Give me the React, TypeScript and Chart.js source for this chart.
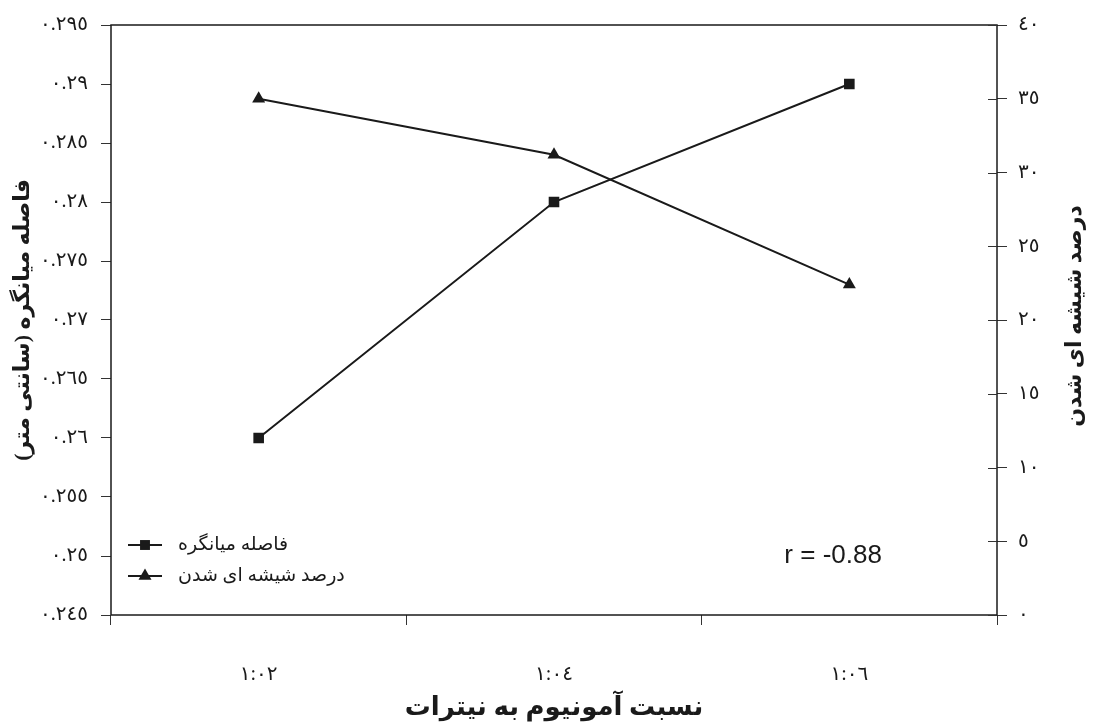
import React, { useEffect, useRef } from "react";
import { Chart, registerables } from "chart.js";

Chart.register(...registerables);

// ---- data ----
const categories = ["1:02", "1:04", "1:06"];
const meanDistance = [0.26, 0.28, 0.29];
const vitrificationPct = [35, 31.2, 22.4];

const leftRange = [0.245, 0.295];
const leftStep = 0.005;
const rightRange = [0, 40];
const rightStep = 5;

const seriesLabels = ["فاصله میانگره", "درصد شیشه ای شدن"];
const xTitle = "نسبت آمونیوم به نیترات";
const leftTitle = "فاصله میانگره (سانتی متر)";
const rightTitle = "درصد شیشه ای شدن";
const rText = "r = -0.88";

const AR_DIGITS = "٠١٢٣٤٥٦٧٨٩";
const toArabic = (s: string) => s.replace(/[0-9]/g, (d) => AR_DIGITS[+d]);
const fmtLeft = (v: number) => {
  let s = v.toFixed(3).replace(/0+$/, "").replace(/\.$/, "");
  return toArabic(s);
};

const SERIF = "'Liberation Serif', 'DejaVu Serif', 'DejaVu Sans', serif";
const SANS = "'Liberation Sans', 'Open Sans', sans-serif";
const INK = "#1a1a1a";

function drawMarker(ctx: CanvasRenderingContext2D, style: string, x: number, y: number, r: number) {
  ctx.beginPath();
  if (style === "rect") {
    const s = r * Math.SQRT1_2;
    ctx.rect(x - s, y - s, 2 * s, 2 * s);
  } else {
    ctx.moveTo(x, y - r);
    ctx.lineTo(x + r * Math.sin((2 * Math.PI) / 3), y + r / 2);
    ctx.lineTo(x - r * Math.sin((2 * Math.PI) / 3), y + r / 2);
    ctx.closePath();
  }
  ctx.fill();
}

const decorPlugin = {
  id: "decor",
  afterDraw(chart: any) {
    const { ctx, chartArea: a, scales } = chart;
    const w = a.right - a.left;
    const h = a.bottom - a.top;
    ctx.save();
    // frame
    ctx.strokeStyle = INK;
    ctx.lineWidth = 1.5;
    ctx.strokeRect(a.left, a.top, w, h);
    // inner half of right-axis ticks
    const y1 = scales.y1;
    ctx.lineWidth = 1;
    ctx.strokeStyle = "#333";
    y1.ticks.forEach((_t: any, i: number) => {
      const py = Math.round(y1.getPixelForTick(i)) + 0.5;
      ctx.beginPath();
      ctx.moveTo(a.right - 9, py);
      ctx.lineTo(a.right, py);
      ctx.stroke();
    });
    // right title (rotated like the left one)
    ctx.save();
    ctx.translate(chart.width - 19, (a.top + a.bottom) / 2 - 4);
    ctx.rotate(-Math.PI / 2);
    ctx.font = `bold 22px ${SERIF}`;
    ctx.fillStyle = INK;
    ctx.textAlign = "center";
    ctx.textBaseline = "middle";
    ctx.fillText(rightTitle, 0, 0);
    ctx.restore();
    // legend
    const styles = ["rect", "triangle"];
    const radii = [7, 7.5];
    chart.data.datasets.forEach((ds: any, i: number) => {
      const ly = a.bottom - 70 + i * 31;
      const lx0 = a.left + 17;
      const lx1 = a.left + 51;
      ctx.strokeStyle = INK;
      ctx.lineWidth = 2;
      ctx.beginPath();
      ctx.moveTo(lx0, ly);
      ctx.lineTo(lx1, ly);
      ctx.stroke();
      ctx.fillStyle = INK;
      drawMarker(ctx, styles[i], (lx0 + lx1) / 2, ly, radii[i]);
      ctx.font = `19px ${SERIF}`;
      ctx.textAlign = "left";
      ctx.textBaseline = "middle";
      ctx.fillText(ds.label, a.left + 67, ly);
    });
    // correlation note
    ctx.font = `26px ${SANS}`;
    ctx.fillStyle = INK;
    ctx.textAlign = "left";
    ctx.textBaseline = "middle";
    ctx.fillText(rText, a.left + 0.76 * w, a.top + 0.9 * h);
    ctx.restore();
  },
};

export default function App() {
  const ref = useRef<HTMLCanvasElement | null>(null);
  useEffect(() => {
    if (!ref.current) return;
    const chart = new Chart(ref.current, {
      type: "line",
      data: {
        labels: categories,
        datasets: [
          {
            label: seriesLabels[0],
            data: meanDistance,
            yAxisID: "y",
            borderColor: INK,
            backgroundColor: INK,
            borderWidth: 2,
            pointStyle: "rect",
            pointRadius: 7.5,
            pointBorderWidth: 0,
            tension: 0,
          },
          {
            label: seriesLabels[1],
            data: vitrificationPct,
            yAxisID: "y1",
            borderColor: INK,
            backgroundColor: INK,
            borderWidth: 2,
            pointStyle: "triangle",
            pointRadius: 7.5,
            pointBorderWidth: 0,
            tension: 0,
          },
        ],
      },
      options: {
        animation: false,
        responsive: true,
        maintainAspectRatio: false,
        layout: { padding: { top: 24, left: 0, right: 0, bottom: 0 } },
        plugins: { legend: { display: false }, tooltip: { enabled: false } },
        scales: {
          x: {
            type: "category",
            offset: true,
            grid: { offset: true, drawOnChartArea: false, drawTicks: true, tickLength: 10, color: "#333", lineWidth: 1 },
            border: { display: false },
            ticks: {
              padding: 38,
              color: INK,
              font: { family: SERIF, size: 20 },
              callback: (_v: any, i: number) => toArabic(categories[i]),
            },
            title: {
              display: true,
              text: xTitle,
              color: INK,
              font: { family: SERIF, size: 26, weight: "bold" },
              padding: { top: 0, bottom: 4 },
            },
            afterFit: (s: any) => {
              s.height = 113;
            },
          },
          y: {
            position: "left",
            min: leftRange[0],
            max: leftRange[1],
            grid: { drawOnChartArea: false, drawTicks: true, tickLength: 10, color: "#333", lineWidth: 1 },
            border: { display: false },
            ticks: {
              stepSize: leftStep,
              padding: 13,
              color: INK,
              font: { family: SERIF, size: 20 },
              callback: (v: any) => fmtLeft(Number(v)),
            },
            title: {
              display: true,
              text: leftTitle,
              color: INK,
              font: { family: SERIF, size: 22, weight: "bold" },
              padding: { top: 10, bottom: 0 },
            },
            afterFit: (s: any) => {
              s.width = 111;
            },
          },
          y1: {
            position: "right",
            min: rightRange[0],
            max: rightRange[1],
            grid: { drawOnChartArea: false, drawTicks: true, tickLength: 10, color: "#333", lineWidth: 1 },
            border: { display: false },
            ticks: {
              stepSize: rightStep,
              padding: 11,
              color: INK,
              font: { family: SERIF, size: 20 },
              callback: (v: any) => toArabic(String(v)),
            },
            title: { display: false },
            afterFit: (s: any) => {
              s.width = 97;
            },
          },
        },
      },
      plugins: [decorPlugin],
    } as any);
    return () => chart.destroy();
  }, []);
  return (
    <div style={{ position: "fixed", left: 0, top: 0, width: 1094, height: 728, background: "#fff" }}>
      <canvas ref={ref} />
    </div>
  );
}
